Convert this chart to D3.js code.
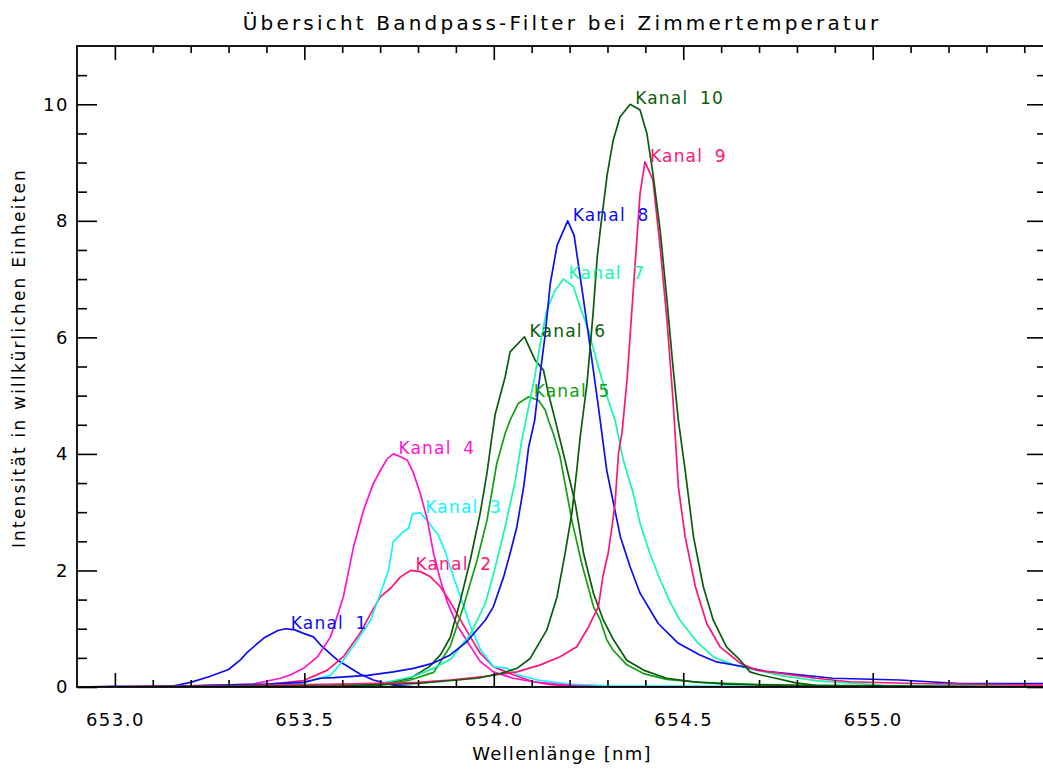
<!DOCTYPE html>
<html>
<head>
<meta charset="utf-8">
<script src="https://cdn.jsdelivr.net/npm/d3@7/dist/d3.min.js"></script>
<style>
  body { margin: 0; background: #fff; }
  svg { display: block; }
  text { font-family: "DejaVu Sans", sans-serif; fill: #000; }
</style>
</head>
<body>
<svg id="chart" width="1043" height="769"></svg>
<script>
// Wellenlaenge [nm], Intensitaet
var kanal1 = [[652.9,0],[653.0,0.01],[653.14,0],[653.2,0.08],[653.25,0.18],[653.3,0.3],[653.332,0.47],[653.35,0.6],
  [653.393,0.84],[653.43,0.97],[653.451,1.0],[653.475,0.98],[653.498,0.92],[653.524,0.86],[653.543,0.72],[653.577,0.52],
  [653.588,0.46],[653.648,0.22],[653.682,0.12],[653.735,0.03],[653.8,0],[655.46,0]];
var kanal2 = [[652.9,0],[653.2,0.01],[653.377,0.03],[653.498,0.11],[653.561,0.29],[653.603,0.52],[653.648,0.93],
  [653.675,1.26],[653.701,1.55],[653.727,1.69],[653.754,1.89],[653.78,2.0],[653.806,1.98],[653.833,1.89],[653.859,1.72],
  [653.885,1.46],[653.912,1.15],[653.938,0.86],[653.964,0.58],[653.999,0.35],[654.051,0.21],[654.104,0.09],[654.15,0.04],
  [654.25,0],[655.46,0]];
var kanal3 = [[652.9,0],[653.3,0.01],[653.464,0.02],[653.516,0.11],[653.569,0.2],[653.603,0.46],[653.64,0.8],
  [653.675,1.15],[653.701,1.61],[653.722,2.0],[653.735,2.5],[653.759,2.65],[653.775,2.72],[653.785,2.97],[653.806,2.99],
  [653.827,2.83],[653.854,2.6],[653.872,2.32],[653.885,2.05],[653.912,1.55],[653.938,1.05],[653.964,0.65],[653.999,0.35],
  [654.036,0.32],[654.062,0.21],[654.115,0.12],[654.2,0.05],[654.3,0.02],[655.46,0]];
var kanal4 = [[652.9,0],[653.0,0],[653.2,0.02],[653.366,0.05],[653.437,0.15],[653.464,0.21],[653.498,0.32],
  [653.535,0.52],[653.569,0.86],[653.603,1.55],[653.63,2.41],[653.656,3.03],[653.682,3.49],[653.701,3.72],[653.719,3.92],
  [653.735,4.0],[653.754,3.95],[653.772,3.89],[653.788,3.67],[653.806,3.32],[653.825,2.86],[653.841,2.29],[653.859,1.84],
  [653.877,1.46],[653.904,1.05],[653.93,0.78],[653.964,0.44],[653.999,0.26],[654.051,0.15],[654.104,0.09],[654.2,0.03],
  [654.3,0],[655.46,0]];
var kanal5 = [[652.9,0],[653.5,0],[653.701,0.03],[653.78,0.12],[653.841,0.25],[653.859,0.43],[653.885,0.7],
  [653.92,1.38],[653.956,2.18],[653.982,2.86],[654.008,3.84],[654.03,4.35],[654.043,4.58],[654.065,4.87],[654.092,4.98],
  [654.118,4.92],[654.136,4.75],[654.144,4.58],[654.157,4.35],[654.175,3.95],[654.206,2.86],[654.232,2.12],[654.263,1.38],
  [654.281,1.15],[654.298,0.81],[654.315,0.63],[654.351,0.38],[654.395,0.23],[654.456,0.13],[654.544,0.08],[654.702,0.04],
  [654.939,0.02],[655.46,0.01]];
var kanal6 = [[652.9,0],[653.5,0],[653.6,0.01],[653.7,0.05],[653.78,0.15],[653.83,0.35],[653.859,0.55],[653.885,0.85],
  [653.912,1.49],[653.938,2.18],[653.964,2.98],[653.982,3.67],[653.995,4.29],[654.004,4.69],[654.03,5.32],[654.043,5.75],
  [654.081,6.01],[654.109,5.61],[654.131,5.44],[654.144,5.04],[654.162,4.58],[654.188,3.89],[654.215,3.15],[654.237,2.29],
  [654.263,1.61],[654.289,1.15],[654.316,0.81],[654.351,0.46],[654.395,0.29],[654.456,0.15],[654.526,0.09],[654.614,0.05],
  [654.808,0.02],[655.46,0.01]];
var kanal7 = [[652.9,0],[653.4,0.01],[653.7,0.06],[653.788,0.18],[653.841,0.32],[653.885,0.47],[653.938,0.9],
  [653.978,1.44],[654.004,2.06],[654.03,2.75],[654.057,3.55],[654.074,4.24],[654.092,4.81],[654.108,5.32],[654.123,5.9],
  [654.14,6.47],[654.162,6.81],[654.184,7.0],[654.21,6.87],[654.228,6.52],[654.25,6.12],[654.276,5.49],[654.302,4.92],
  [654.32,4.58],[654.342,3.89],[654.368,3.32],[654.386,2.81],[654.412,2.29],[654.439,1.84],[654.465,1.46],[654.491,1.15],
  [654.535,0.78],[654.579,0.52],[654.632,0.38],[654.693,0.29],[654.763,0.19],[654.85,0.11],[655.026,0.03],[655.46,0.02]];
var kanal8 = [[652.9,0],[653.1,0.01],[653.2,0.02],[653.401,0.05],[653.498,0.08],[653.543,0.15],[653.577,0.16],
  [653.667,0.2],[653.735,0.26],[653.788,0.32],[653.841,0.41],[653.885,0.55],[653.929,0.78],[653.978,1.15],[653.999,1.38],
  [654.026,1.89],[654.043,2.29],[654.061,2.75],[654.079,3.44],[654.092,4.12],[654.108,4.58],[654.118,5.15],[654.136,6.07],
  [654.149,6.92],[654.167,7.58],[654.195,8.0],[654.212,7.75],[654.237,6.64],[654.259,5.61],[654.276,4.81],[654.298,3.72],
  [654.316,3.15],[654.334,2.58],[654.36,2.06],[654.386,1.61],[654.434,1.09],[654.487,0.75],[654.544,0.55],[654.588,0.43],
  [654.65,0.36],[654.718,0.27],[654.789,0.22],[654.895,0.15],[655.071,0.12],[655.229,0.06],[655.46,0.06]];
var kanal9 = [[652.9,0],[653.3,0.02],[653.6,0.05],[653.8,0.08],[653.885,0.12],[653.973,0.18],[654.061,0.26],
  [654.123,0.38],[654.175,0.52],[654.219,0.69],[654.25,1.03],[654.276,1.38],[654.288,1.9],[654.302,2.3],[654.312,2.75],
  [654.32,3.15],[654.329,4.0],[654.339,4.4],[654.352,5.3],[654.368,6.8],[654.386,8.47],[654.399,9.01],[654.42,8.7],
  [654.439,7.55],[654.457,6.3],[654.473,4.92],[654.487,3.44],[654.505,2.58],[654.532,1.72],[654.562,1.09],[654.597,0.69],
  [654.65,0.41],[654.693,0.29],[654.763,0.23],[654.85,0.15],[654.939,0.09],[655.113,0.06],[655.46,0.03]];
var kanal10 = [[652.9,0],[653.6,0.02],[653.8,0.06],[653.956,0.15],[654.017,0.23],[654.061,0.32],[654.096,0.49],
  [654.14,0.98],[654.167,1.55],[654.188,2.29],[654.206,2.98],[654.219,3.72],[654.228,4.29],[654.246,5.21],[654.262,6.41],
  [654.273,7.38],[654.281,7.84],[654.299,8.78],[654.315,9.38],[654.333,9.78],[654.36,10.0],[654.386,9.9],[654.404,9.5],
  [654.42,8.81],[654.439,7.84],[654.457,6.64],[654.473,5.49],[654.487,4.58],[654.505,3.72],[654.527,2.58],[654.553,1.72],
  [654.579,1.15],[654.614,0.69],[654.65,0.46],[654.676,0.26],[654.702,0.21],[654.744,0.15],[654.797,0.07],[654.85,0.03],
  [655.46,0]];

var channels = [kanal1, kanal2, kanal3, kanal4, kanal5, kanal6, kanal7, kanal8, kanal9, kanal10];
var channelNames = ['Kanal 1', 'Kanal 2', 'Kanal 3', 'Kanal 4', 'Kanal 5',
                    'Kanal 6', 'Kanal 7', 'Kanal 8', 'Kanal 9', 'Kanal 10'];
var channelColors = ['#0c0cf5', '#ff1478', '#10f4ff', '#ff12d6', '#12a012',
                     '#0a5c0a', '#14f8aa', '#0c0cf5', '#ff1478', '#0a5c0a'];

var xTicks = [653.0, 653.5, 654.0, 654.5, 655.0];
var xTickLabels = ['653.0', '653.5', '654.0', '654.5', '655.0'];
var yTicks = [0, 2, 4, 6, 8, 10];
var yTickLabels = ['0', '2', '4', '6', '8', '10'];

var titleText = 'Übersicht Bandpass-Filter bei Zimmertemperatur';
var xTitle = 'Wellenlänge [nm]';
var yTitle = 'Intensität in willkürlichen Einheiten';

var margin = {left: 77, top: 46, right: -4, bottom: 82},
    W = 1043, H = 769,
    svg = d3.select('#chart'),
    x = d3.scaleLinear().domain([652.9, 655.46]).range([margin.left, W - margin.right]),
    y = d3.scaleLinear().domain([0, 11]).range([H - margin.bottom, margin.top]);

var x0 = x.range()[0], x1 = x.range()[1], y0 = y.range()[0], y1 = y.range()[1];

svg.append('clipPath').attr('id', 'plotclip')
    .append('rect').attr('x', x0).attr('y', y1).attr('width', x1 - x0).attr('height', y0 - y1);

// curves
var line = d3.line()
    .x(function(d) { return x(d[0]); })
    .y(function(d) { return y(d[1]); });

var plot = svg.append('g').attr('clip-path', 'url(#plotclip)');
channels.forEach(function(c, i) {
    plot.append('path')
        .datum(c)
        .attr('d', line)
        .attr('fill', 'none')
        .attr('stroke', channelColors[i])
        .attr('stroke-width', 1.7)
        .attr('stroke-linejoin', 'round');
});

// channel labels at the peak of each curve
channels.forEach(function(c, i) {
    var peak = d3.greatest(c, function(d) { return d[1]; });
    svg.append('text')
        .attr('x', x(peak[0]) + 5)
        .attr('y', y(peak[1]))
        .style('fill', channelColors[i])
        .style('font-size', '17px')
        .style('letter-spacing', '1.2px')
        .style('word-spacing', '5px')
        .text(channelNames[i]);
});

// axes: ticks point inwards on all four sides
var xMinor = d3.range(653.0, 655.45, 0.1).filter(function(v) { return Math.abs(v * 2 - Math.round(v * 2)) > 1e-6; });
var yMinor = d3.range(0.5, 11, 0.5).filter(function(v) { return v % 2 !== 0; });

function drawAxis(axis, tr) {
    var g = svg.append('g').attr('transform', tr).call(axis);
    g.select('.domain').remove();
    g.selectAll('line').attr('stroke', '#000').attr('stroke-width', 1.6);
    g.selectAll('text').style('font-size', '18px').style('letter-spacing', '1.5px');
    return g;
}

drawAxis(d3.axisBottom(x).tickValues(xTicks).tickSize(-14).tickPadding(26)
    .tickFormat(function(d, i) { return xTickLabels[i]; }), 'translate(0,' + y0 + ')');
drawAxis(d3.axisBottom(x).tickValues(xMinor).tickSize(-7).tickFormat(''), 'translate(0,' + y0 + ')');
drawAxis(d3.axisTop(x).tickValues(xTicks).tickSize(-14).tickFormat(''), 'translate(0,' + y1 + ')');
drawAxis(d3.axisTop(x).tickValues(xMinor).tickSize(-7).tickFormat(''), 'translate(0,' + y1 + ')');

drawAxis(d3.axisLeft(y).tickValues(yTicks).tickSize(-20).tickPadding(8)
    .tickFormat(function(d, i) { return yTickLabels[i]; }), 'translate(' + x0 + ',0)');
drawAxis(d3.axisLeft(y).tickValues(yMinor).tickSize(-10).tickFormat(''), 'translate(' + x0 + ',0)');
drawAxis(d3.axisRight(y).tickValues(yTicks).tickSize(-20).tickFormat(''), 'translate(' + x1 + ',0)');
drawAxis(d3.axisRight(y).tickValues(yMinor).tickSize(-10).tickFormat(''), 'translate(' + x1 + ',0)');

svg.append('rect')
    .attr('x', x0).attr('y', y1).attr('width', x1 - x0).attr('height', y0 - y1)
    .attr('fill', 'none').attr('stroke', '#000').attr('stroke-width', 1.8);

// titles
svg.append('text')
    .attr('x', 562).attr('y', 30)
    .attr('text-anchor', 'middle')
    .style('font-size', '20px')
    .style('letter-spacing', '3.2px')
    .text(titleText);

svg.append('text')
    .attr('x', 562).attr('y', 760)
    .attr('text-anchor', 'middle')
    .style('font-size', '18px')
    .style('letter-spacing', '1.3px')
    .text(xTitle);

svg.append('text')
    .attr('transform', 'translate(25,358) rotate(-90)')
    .attr('text-anchor', 'middle')
    .style('font-size', '17px')
    .style('letter-spacing', '2.2px')
    .text(yTitle);
</script>
</body>
</html>
